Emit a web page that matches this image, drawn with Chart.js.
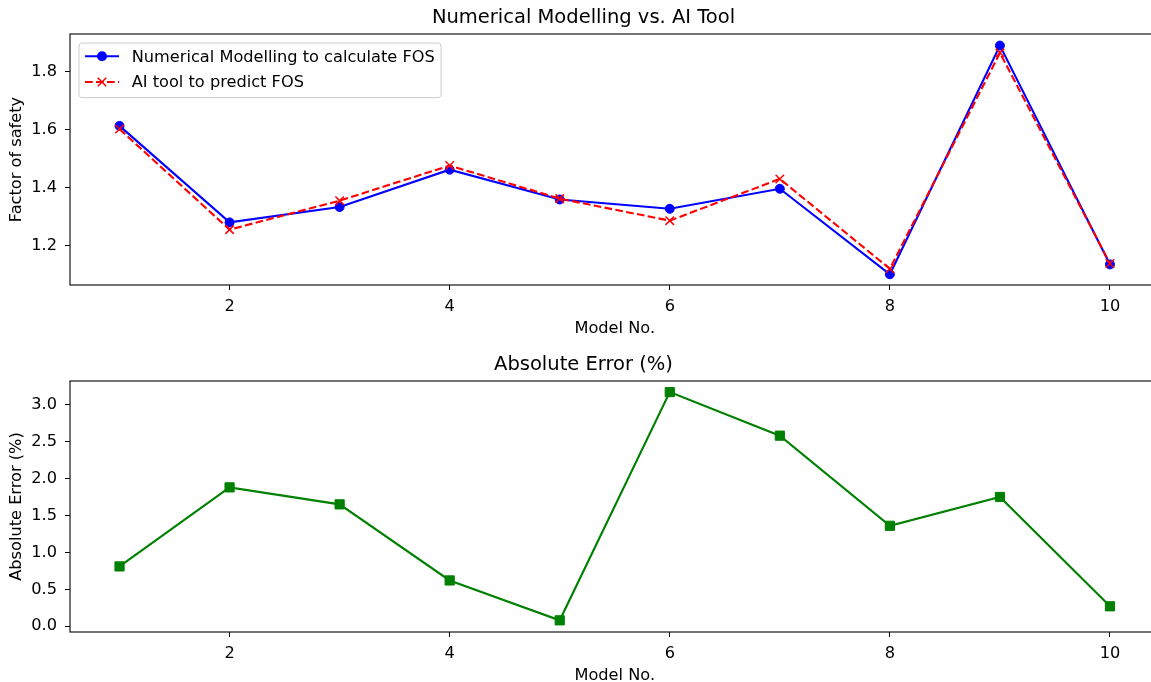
<!DOCTYPE html>
<html>
<head>
<meta charset="utf-8">
<script src="https://cdn.jsdelivr.net/npm/chart.js"></script>
<style>
  html, body { margin: 0; padding: 0; background: #fff; overflow: hidden; width: 1151px; height: 682px; }
  .panel { position: absolute; left: 0; width: 1167px; height: 347px; }
</style>
</head>
<body>
<div class="panel" style="top:0"><canvas id="fosChart" width="1167" height="347"></canvas></div>
<div class="panel" style="top:347px"><canvas id="errChart" width="1167" height="347"></canvas></div>
<script>
// data
const modelNo = [1, 2, 3, 4, 5, 6, 7, 8, 9, 10];
const numericalFOS = [1.614, 1.281, 1.334, 1.463, 1.360, 1.328, 1.397, 1.102, 1.891, 1.136];
const aiFOS = [1.603, 1.256, 1.356, 1.477, 1.363, 1.287, 1.431, 1.121, 1.866, 1.139];
const absError = [0.81, 1.88, 1.65, 0.62, 0.08, 3.17, 2.58, 1.36, 1.75, 0.27];

const xTicks = [2, 4, 6, 8, 10];
const fosTicks = [1.2, 1.4, 1.6, 1.8];
const errTicks = [0.0, 0.5, 1.0, 1.5, 2.0, 2.5, 3.0];

const FONT = '"DejaVu Sans", sans-serif';
const SMALL = 16.2;   // ticks, labels, legend
const BIG = 19.5;     // subplot titles

function points(ys) {
    return modelNo.map((x, i) => ({ x: x, y: ys[i] }));
}

// box round the plot area, like matplotlib spines
const spinesPlugin = {
    id: 'spines',
    afterDatasetsDraw(chart) {
        const a = chart.chartArea;
        const ctx = chart.ctx;
        ctx.save();
        ctx.strokeStyle = '#000';
        ctx.lineWidth = 1.1;
        ctx.strokeRect(a.left, a.top, a.right - a.left, a.bottom - a.top);
        ctx.restore();
    }
};

// legend drawn inside the plot (upper left)
const insideLegend = {
    id: 'insideLegend',
    afterDatasetsDraw(chart) {
        const ctx = chart.ctx;
        const a = chart.chartArea;
        const items = chart.data.datasets;
        const bx = a.left + 9, by = a.top + 9;
        ctx.save();
        ctx.font = SMALL + 'px ' + FONT;
        const textW = Math.max(...items.map(d => ctx.measureText(d.label).width));
        const bw = 52.7 + textW + 6.3, bh = 54.6;
        ctx.beginPath();
        ctx.roundRect(bx, by, bw, bh, 3);
        ctx.fillStyle = 'rgba(255,255,255,0.8)';
        ctx.fill();
        ctx.strokeStyle = '#cccccc';
        ctx.lineWidth = 1;
        ctx.stroke();

        items.forEach((d, i) => {
            const y = by + 13.3 + i * 25.7;
            ctx.strokeStyle = d.borderColor;
            ctx.lineWidth = d.borderWidth;
            ctx.setLineDash(d.borderDash || []);
            ctx.beginPath();
            ctx.moveTo(bx + 6, y);
            ctx.lineTo(bx + 40, y);
            ctx.stroke();
            ctx.setLineDash([]);
            const mx = bx + 23;
            if (d.pointStyle === 'circle') {
                ctx.fillStyle = d.pointBackgroundColor;
                ctx.beginPath();
                ctx.arc(mx, y, d.pointRadius + 0.5, 0, Math.PI * 2);
                ctx.fill();
            } else {
                const r = d.pointRadius * Math.SQRT1_2;
                ctx.lineWidth = d.pointBorderWidth;
                ctx.beginPath();
                ctx.moveTo(mx - r, y - r); ctx.lineTo(mx + r, y + r);
                ctx.moveTo(mx - r, y + r); ctx.lineTo(mx + r, y - r);
                ctx.stroke();
            }
            ctx.fillStyle = '#000';
            ctx.textBaseline = 'middle';
            ctx.textAlign = 'left';
            ctx.fillText(d.label, bx + 52.7, y + 1);
        });
        ctx.restore();
    }
};

function xAxis() {
    return {
        type: 'linear',
        bounds: 'data',
        min: 0.55,
        max: 10.45,
        afterBuildTicks: s => { s.ticks = xTicks.map(v => ({ value: v })); },
        afterFit: s => { s.height = 62; s.paddingLeft = 0; s.paddingRight = 0; },
        grid: { drawOnChartArea: false, drawTicks: true, tickLength: 5, tickColor: '#000', tickWidth: 1 },
        border: { display: false },
        ticks: { color: '#000', font: { family: FONT, size: SMALL }, padding: 7, includeBounds: false },
        title: { display: true, text: 'Model No.', color: '#000', font: { family: FONT, size: SMALL }, padding: { top: 0, bottom: 8.5 } }
    };
}

function yAxis(min, max, tickList, label) {
    return {
        type: 'linear',
        bounds: 'data',
        min: min,
        max: max,
        afterBuildTicks: s => { s.ticks = tickList.map(v => ({ value: v })); },
        afterFit: s => { s.width = 70; },
        grid: { drawOnChartArea: false, drawTicks: true, tickLength: 5, tickColor: '#000', tickWidth: 1 },
        border: { display: false },
        ticks: { color: '#000', font: { family: FONT, size: SMALL }, padding: 8, includeBounds: false,
                 callback: v => Number(v).toFixed(1) },
        title: { display: true, text: label, color: '#000', font: { family: FONT, size: SMALL }, padding: { top: 7, bottom: 0 } }
    };
}

function baseOptions(titleText) {
    return {
        responsive: false,
        animation: false,
        layout: { padding: { top: 6.3, left: 0, right: 0, bottom: 0 } },
        plugins: {
            legend: { display: false },
            tooltip: { enabled: false },
            title: { display: true, text: titleText, color: '#000', font: { family: FONT, size: BIG, weight: 'normal' },
                     padding: { top: 0, bottom: 4.3 } }
        }
    };
}

const fosOptions = baseOptions('Numerical Modelling vs. AI Tool');
fosOptions.scales = { x: xAxis(), y: yAxis(1.065, 1.931, fosTicks, 'Factor of safety') };

new Chart(document.getElementById('fosChart'), {
    type: 'line',
    data: {
        datasets: [{
            label: 'Numerical Modelling to calculate FOS',
            data: points(numericalFOS),
            borderColor: '#0000ff',
            backgroundColor: '#0000ff',
            borderWidth: 2.1,
            tension: 0,
            pointStyle: 'circle',
            pointRadius: 4.5,
            pointBorderWidth: 1,
            pointBackgroundColor: '#0000ff',
            pointBorderColor: '#0000ff',
            order: 2
        }, {
            label: 'AI tool to predict FOS',
            data: points(aiFOS),
            borderColor: '#ff0000',
            backgroundColor: '#ff0000',
            borderWidth: 2.1,
            borderDash: [7.7, 3.3],
            tension: 0,
            pointStyle: 'crossRot',
            pointRadius: 6,
            pointBorderWidth: 1.5,
            pointBackgroundColor: '#ff0000',
            pointBorderColor: '#ff0000',
            order: 1
        }]
    },
    options: fosOptions,
    plugins: [spinesPlugin, insideLegend]
});

const errOptions = baseOptions('Absolute Error (%)');
errOptions.scales = { x: xAxis(), y: yAxis(-0.078, 3.32, errTicks, 'Absolute Error (%)') };

new Chart(document.getElementById('errChart'), {
    type: 'line',
    data: {
        datasets: [{
            label: 'Absolute Error (%)',
            data: points(absError),
            borderColor: '#008000',
            backgroundColor: '#008000',
            borderWidth: 2.1,
            tension: 0,
            pointStyle: 'rect',
            pointRadius: 6.5,
            pointBorderWidth: 1,
            pointBackgroundColor: '#008000',
            pointBorderColor: '#008000'
        }]
    },
    options: errOptions,
    plugins: [spinesPlugin]
});
</script>
</body>
</html>
